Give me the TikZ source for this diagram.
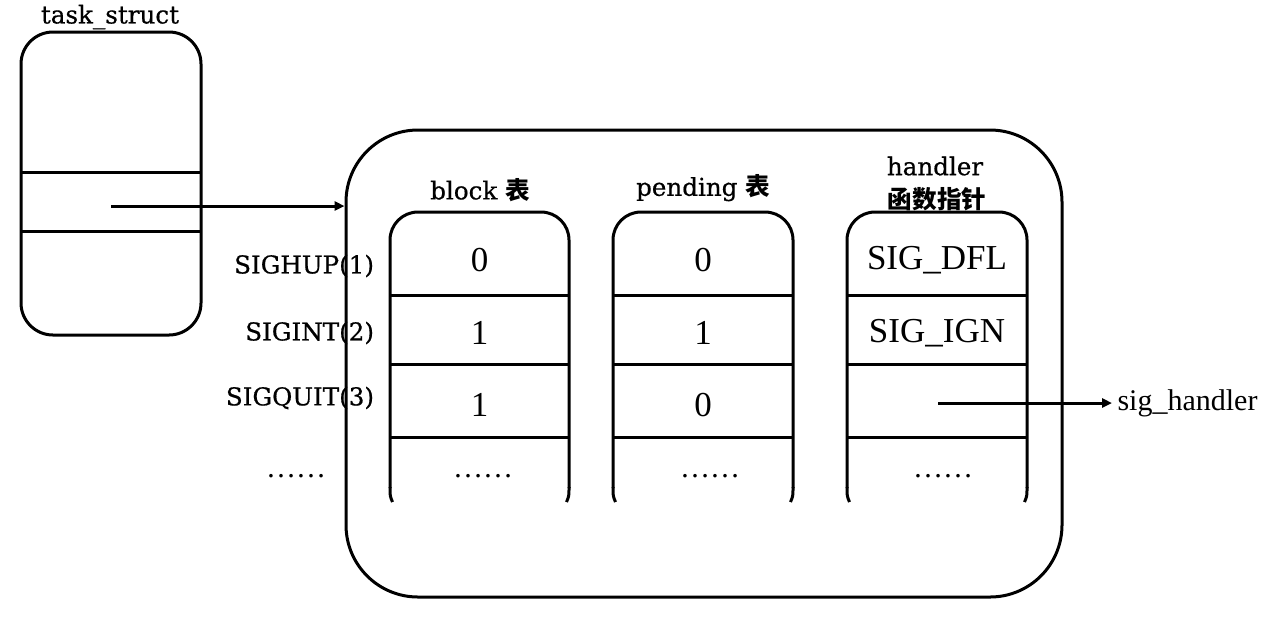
\documentclass[tikz,border=0pt]{standalone}
\usepackage{fontspec}
\setmainfont{DejaVu Serif}[FakeBold=0.6]
\newfontfamily\valfont{Liberation Serif}
\newfontfamily\cjk{Noto Sans CJK SC}
\usetikzlibrary{arrows.meta}

\begin{document}
\begin{tikzpicture}[x=0.5pt,y=0.5pt,yscale=-1,xscale=1,line width=1.5pt,
    lbl/.style={inner sep=0.75pt,font=\fontsize{12.3}{14}\selectfont},
    val/.style={inner sep=0.75pt,font=\valfont\fontsize{17.5}{20}\selectfont},
    dots/.style={inner sep=0.75pt,font=\valfont\fontsize{15}{18}\selectfont},
    ptr/.style={-{Triangle[length=5pt,width=4.5pt]}}]
        \useasboundingbox (0,0) rectangle (1278,618);

        %Shape: Rounded Rect [id:task_struct]
        \node [draw,rounded corners=16pt,minimum width=90pt,minimum height=151.5pt,inner sep=0pt] (task) at (111,183.5) {};
        %Straight Lines
        \draw (21,172) -- (201,172) ;
        \draw (21,231) -- (201,231) ;
        %Shape: Rounded Rect [id:sigtab]
        \node [draw,rounded corners=36pt,minimum width=358pt,minimum height=233.5pt,inner sep=0pt] (sigtab) at (704,363.5) {};

        %Shape: Open Rounded Rect [id:block]
        \draw [rounded corners=14pt] (390,488) -- (390,212) -- (569,212) -- (569,488) ;
        \draw (390,487) .. controls (390,496) .. (392.5,502) ;
        \draw (569,487) .. controls (569,496) .. (566.5,502) ;
        \draw (390,295) -- (569,295) ;
        \draw (390,364) -- (569,364) ;
        \draw (390,437) -- (569,437) ;
        %Shape: Open Rounded Rect [id:pending]
        \draw [rounded corners=14pt] (613,488) -- (613,212) -- (793,212) -- (793,488) ;
        \draw (613,487) .. controls (613,496) .. (615.5,502) ;
        \draw (793,487) .. controls (793,496) .. (790.5,502) ;
        \draw (613,295) -- (793,295) ;
        \draw (613,364) -- (793,364) ;
        \draw (613,437) -- (793,437) ;
        %Shape: Open Rounded Rect [id:handler]
        \draw [rounded corners=14pt] (847,488) -- (847,212) -- (1027,212) -- (1027,488) ;
        \draw (847,487) .. controls (847,496) .. (849.5,502) ;
        \draw (1027,487) .. controls (1027,496) .. (1024.5,502) ;
        \draw (847,295) -- (1027,295) ;
        \draw (847,364) -- (1027,364) ;
        \draw (847,437) -- (1027,437) ;

        % Text Node
        \node [lbl] (tasklbl) at (110,17) {task\_struct};
        \node [lbl] (blocklbl) at (480,190) {block {\cjk\bfseries 表}};
        \node [lbl] (pendlbl) at (703,188) {pending {\cjk\bfseries 表}};
        \node [lbl] (handlbl) at (935,166) {handler};
        \node [lbl] (handcn) at (937,199) {\cjk\bfseries 函数指针};
        % Text Node
        \node [lbl,anchor=east] (sighup) at (377,266) {SIGHUP(1)};
        \node [lbl,anchor=east] (sigint) at (377,333) {SIGINT(2)};
        \node [lbl,anchor=east] (sigquit) at (377,398) {SIGQUIT(3)};
        \node [dots] (sigmore) at (296,476) {……};
        % Text Node
        \node [val] (b1) at (479.5,260) {0};
        \node [val] (b2) at (479.5,333) {1};
        \node [val] (b3) at (479.5,405) {1};
        \node [dots] (b4) at (483,476) {……};
        \node [val] (p1) at (703,260) {0};
        \node [val] (p2) at (703,333) {1};
        \node [val] (p3) at (703,405) {0};
        \node [dots] (p4) at (710,476) {……};
        \node [val] (h1) at (937,260) {SIG\_DFL};
        \node [val] (h2) at (937,333) {SIG\_IGN};
        \node [dots] (h4) at (943,476) {……};
        \node [dots,anchor=west,inner sep=2pt] (sigh) at (1112,403) {sig\_handler};

        %Pointers
        \coordinate (taskptr) at (111,206) ;
        \coordinate (handptr) at (938,403) ;
        \draw [ptr] (taskptr) -- (taskptr -| sigtab.west) ;
        \draw [ptr] (handptr) -- (sigh.west) ;
\end{tikzpicture}
\end{document}
